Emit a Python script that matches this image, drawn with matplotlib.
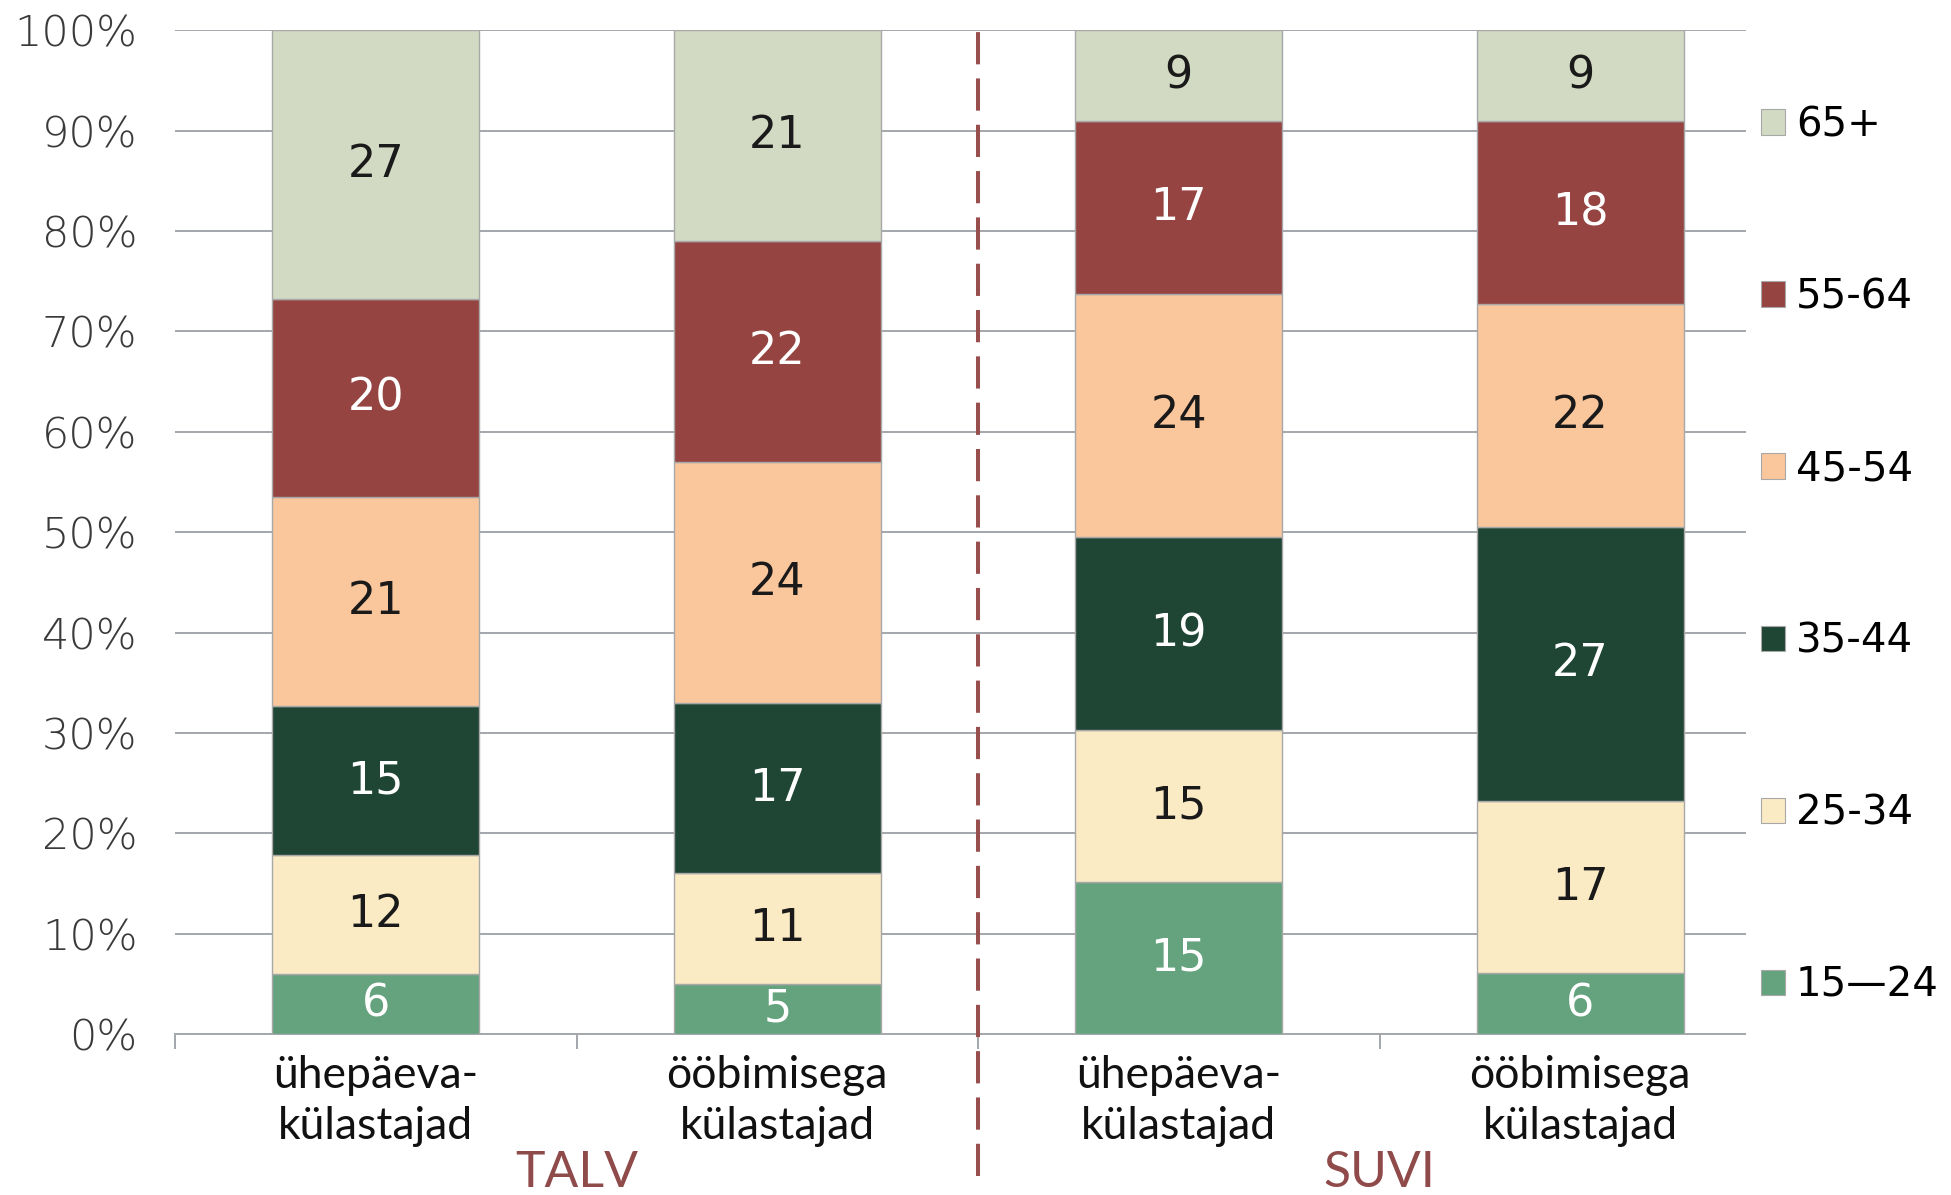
import matplotlib
matplotlib.use("Agg")
import matplotlib.pyplot as plt
import matplotlib.transforms as mtransforms
from matplotlib.patches import Patch
import numpy as np

# ---- data ----
categories = ["ühepäeva-\nkülastajad", "ööbimisega\nkülastajad",
              "ühepäeva-\nkülastajad", "ööbimisega\nkülastajad"]
seasons = ["TALV", "SUVI"]
age_groups = ["15—24", "25-34", "35-44", "45-54", "55-64", "65+"]
v_15_24 = [6, 5, 15, 6]
v_25_34 = [12, 11, 15, 17]
v_35_44 = [15, 17, 19, 27]
v_45_54 = [21, 24, 24, 22]
v_55_64 = [20, 22, 17, 18]
v_65p = [27, 21, 9, 9]
yticks = [0, 10, 20, 30, 40, 50, 60, 70, 80, 90, 100]
ytick_labels = [f"{t}%" for t in yticks]

series = [v_15_24, v_25_34, v_35_44, v_45_54, v_55_64, v_65p]
colors = ["#64A37D", "#FBEBC4", "#1F4535", "#FAC69C", "#954442", "#D2DAC3"]
label_colors = ["white", "#1a1a1a", "white", "#1a1a1a", "white", "#1a1a1a"]

num_font = "DejaVu Sans"
cat_font = ["Lato", "DejaVu Sans"]
grid_c = "#A3A6AA"

fig = plt.figure(figsize=(19.51, 11.95), dpi=100)
ax = fig.add_axes([0.0897, 0.1347, 0.8232, 0.840])

data = np.array(series, dtype=float)
totals = data.sum(axis=0)
pct = data / totals * 100
x = np.arange(len(categories))
bottom = np.zeros(len(categories))
width = 0.515
for i, (row, c) in enumerate(zip(pct, colors)):
    ax.bar(x, row, width, bottom=bottom, color=c, edgecolor="#A8A8A8",
           linewidth=1.0, zorder=3, label=age_groups[i])
    for j in range(len(x)):
        ax.text(x[j], bottom[j] + row[j] / 2, f"{int(data[i, j])}",
                ha="center", va="center", fontsize=32, color=label_colors[i],
                family=num_font, zorder=4)
    bottom += row

ax.set_xlim(-0.5, len(categories) - 0.5)
ax.set_ylim(0, 100)
ax.set_yticks(yticks)
ax.set_yticklabels(ytick_labels, family=num_font, fontsize=31, color="#3a3a3a",
                   fontweight="light")
ax.tick_params(axis="y", length=0, pad=27)

# gridlines stop short of the right end (legend area)
grid_end = 0.9775
for t in yticks[1:]:
    ax.axhline(t, xmin=0, xmax=grid_end, color=grid_c, linewidth=1.4, zorder=1)

ax.set_xticks(x)
ax.set_xticklabels(categories, family=cat_font, fontsize=32, color="#111111",
                   linespacing=1.31)
ax.tick_params(axis="x", length=0, pad=15)
ax.set_xticks(np.arange(-0.5, len(categories) - 1), minor=True)
ax.tick_params(axis="x", which="minor", length=11, color=grid_c, width=1.4)

for s in ["top", "right", "left"]:
    ax.spines[s].set_visible(False)
ax.spines["bottom"].set_color(grid_c)
ax.spines["bottom"].set_linewidth(1.4)
ax.spines["bottom"].set_bounds(-0.5, -0.5 + grid_end * len(categories))

# separator
ax.axvline(1.5, ymin=-0.141, ymax=1.0, clip_on=False, color="#994E4E",
           linewidth=2.9, dashes=(8, 3.5), zorder=5)

# season labels
trans = mtransforms.blended_transform_factory(ax.transData, ax.transAxes)
for k, s in enumerate(seasons):
    ax.text(0.5 + 2 * k, -0.138, s, transform=trans, ha="center", va="center",
            fontsize=36, color="#8F4A4A", family=cat_font)

# legend
handles = [Patch(facecolor=c, edgecolor="#A8A8A8", linewidth=0.8) for c in colors]
leg = fig.legend(handles[::-1], age_groups[::-1], loc="upper left",
                 bbox_to_anchor=(0.9026, 0.9120), frameon=False,
                 prop={"family": num_font, "size": 29},
                 handlelength=0.6, handleheight=0.6, handletextpad=0.27,
                 labelspacing=3.28, borderaxespad=0, borderpad=0)

fig.savefig("out.png", dpi=100)
